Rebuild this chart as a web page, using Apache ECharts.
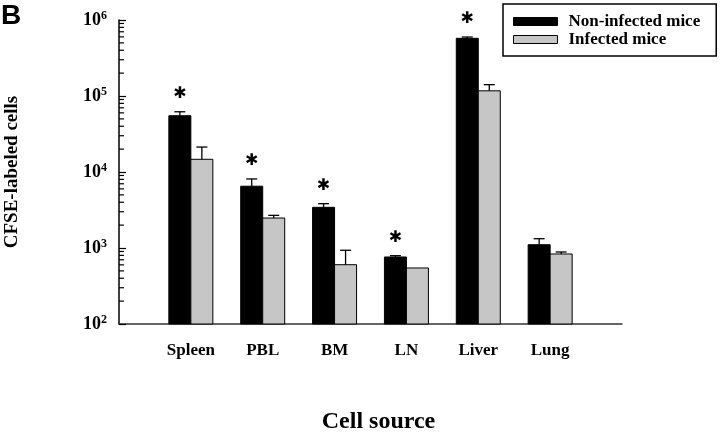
<!DOCTYPE html>
<html><head><meta charset="utf-8">
<script src="https://cdn.jsdelivr.net/npm/echarts@6/dist/echarts.min.js"></script>
<style>html,body{margin:0;padding:0;background:#fff}#c{width:720px;height:434px}</style>
</head><body><div id="c"></div>
<script>
// ---- data ----
const categories = ['Spleen', 'PBL', 'BM', 'LN', 'Liver', 'Lung'];
const nonInfected = [55000, 6500, 3430, 762, 574000, 1105];
const nonInfectedErr = [62000, 8100, 3830, 792, 597000, 1325];
const infected = [14700, 2480, 603, 546, 117000, 834];
const infectedErr = [21300, 2690, 933, 546, 141000, 886];
const significant = [1, 1, 1, 1, 1, 0];
const yExponents = ['2', '3', '4', '5', '6'];
const seriesNames = ['Non-infected mice', 'Infected mice'];

const SERIF = '"Liberation Serif", "Times New Roman", serif';
const axisCats = [''].concat(categories, ['']);
const minorTicks = [];
for (let d = 2; d < 6; d++) for (let m = 2; m <= 9; m++) minorTicks.push(m * Math.pow(10, d));

function makeData(vals, errs) {
  return vals.map((v, i) => [i + 1, v, errs[i]]);
}

function barRenderer(offset, fill, stars) {
  return function (params, api) {
    const x = api.value(0), v = api.value(1), e = api.value(2);
    const top = api.coord([x, v]);
    const base = api.coord([x, 100]);
    const err = api.coord([x, e]);
    const cx = top[0] + offset;
    const w = 22;
    const children = [{
      type: 'rect',
      shape: { x: cx - w / 2, y: top[1], width: w, height: base[1] - top[1] },
      style: { fill: fill, stroke: '#000', lineWidth: 1 }
    }];
    if (e > v) {
      children.push({ type: 'line', shape: { x1: cx, y1: top[1], x2: cx, y2: err[1] }, style: { stroke: '#000', lineWidth: 1.3 } });
      children.push({ type: 'line', shape: { x1: cx - 5.5, y1: err[1], x2: cx + 5.5, y2: err[1] }, style: { stroke: '#000', lineWidth: 1.3 } });
    }
    if (stars && stars[params.dataIndex]) {
      children.push({ type: 'text', x: cx, y: err[1] - 18, style: { text: '\u2731', font: '16px "DejaVu Sans"', fill: '#000', align: 'center', verticalAlign: 'middle' } });
    }
    return { type: 'group', children: children };
  };
}

const chart = echarts.init(document.getElementById('c'), null, { renderer: 'canvas' });
chart.setOption({
  animation: false,
  backgroundColor: '#fff',
  title: {
    text: 'B', left: 1, top: 2, padding: 0,
    textStyle: { fontFamily: '"Liberation Sans", Arial, sans-serif', fontWeight: 'bold', fontSize: 28, color: '#000' }
  },
  legend: {
    orient: 'vertical', left: 503, top: 4, padding: [9, 16, 8, 10], itemGap: 1,
    itemWidth: 44, itemHeight: 8, borderColor: '#000', borderWidth: 1.5, borderRadius: 0,
    backgroundColor: '#fff',
    textStyle: { fontFamily: SERIF, fontWeight: 'bold', fontSize: 17, lineHeight: 16, color: '#000', padding: [0, 0, 0, 6] },
    data: [
      { name: seriesNames[0], icon: 'rect', itemStyle: { color: '#000', borderColor: '#000', borderWidth: 1 } },
      { name: seriesNames[1], icon: 'rect', itemStyle: { color: '#c6c6c6', borderColor: '#000', borderWidth: 1 } }
    ]
  },
  grid: { left: 119, right: 98, top: 20, bottom: 110, containLabel: false, outerBoundsMode: 'none' },
  xAxis: {
    type: 'category', data: axisCats, boundaryGap: false,
    axisLine: { show: true, lineStyle: { color: '#333', width: 1.5 } },
    axisTick: { show: false },
    splitLine: { show: false },
    axisLabel: { interval: 0, margin: 18, fontFamily: SERIF, fontWeight: 'bold', fontSize: 17, color: '#000' },
    name: 'Cell source', nameLocation: 'middle', nameGap: 86,
    nameTextStyle: { fontFamily: SERIF, fontWeight: 'bold', fontSize: 24, color: '#000', padding: [0, 0, 0, 16] }
  },
  yAxis: {
    type: 'log', logBase: 10, min: 100, max: 1000000,
    axisLine: { show: true, lineStyle: { color: '#000', width: 1.5 } },
    axisTick: { show: true, inside: true, length: 7, lineStyle: { color: '#000', width: 1.2 } },
    splitLine: { show: false },
    axisLabel: {
      margin: 12,
      formatter: function (v, i) { return '{b|10}{s|' + yExponents[i] + '}'; },
      rich: {
        b: { fontFamily: SERIF, fontWeight: 'bold', fontSize: 18, color: '#000' },
        s: { fontFamily: SERIF, fontWeight: 'bold', fontSize: 12, color: '#000', padding: [0, 0, 8, 0] }
      }
    },
    name: 'CFSE-labeled cells', nameLocation: 'middle', nameGap: 97,
    nameTextStyle: { fontFamily: SERIF, fontWeight: 'bold', fontSize: 19, color: '#000' }
  },
  series: [
    {
      type: 'custom', name: seriesNames[0], itemStyle: { color: '#000' },
      encode: { x: 0, y: 1 }, data: makeData(nonInfected, nonInfectedErr),
      renderItem: barRenderer(-11, '#000', significant), z: 3
    },
    {
      type: 'custom', name: seriesNames[1], itemStyle: { color: '#c6c6c6' },
      encode: { x: 0, y: 1 }, data: makeData(infected, infectedErr),
      renderItem: barRenderer(11, '#c6c6c6', null), z: 3
    },
    {
      type: 'custom', name: 'minorTicks', silent: true, encode: { x: 0, y: 1 },
      data: minorTicks.map(v => [0, v]),
      renderItem: function (p, api) {
        const c = api.coord([0, api.value(1)]);
        return { type: 'line', shape: { x1: c[0], y1: c[1], x2: c[0] + 5, y2: c[1] }, style: { stroke: '#000', lineWidth: 1.2 } };
      }, z: 5
    }
  ]
});
</script>
</body></html>
